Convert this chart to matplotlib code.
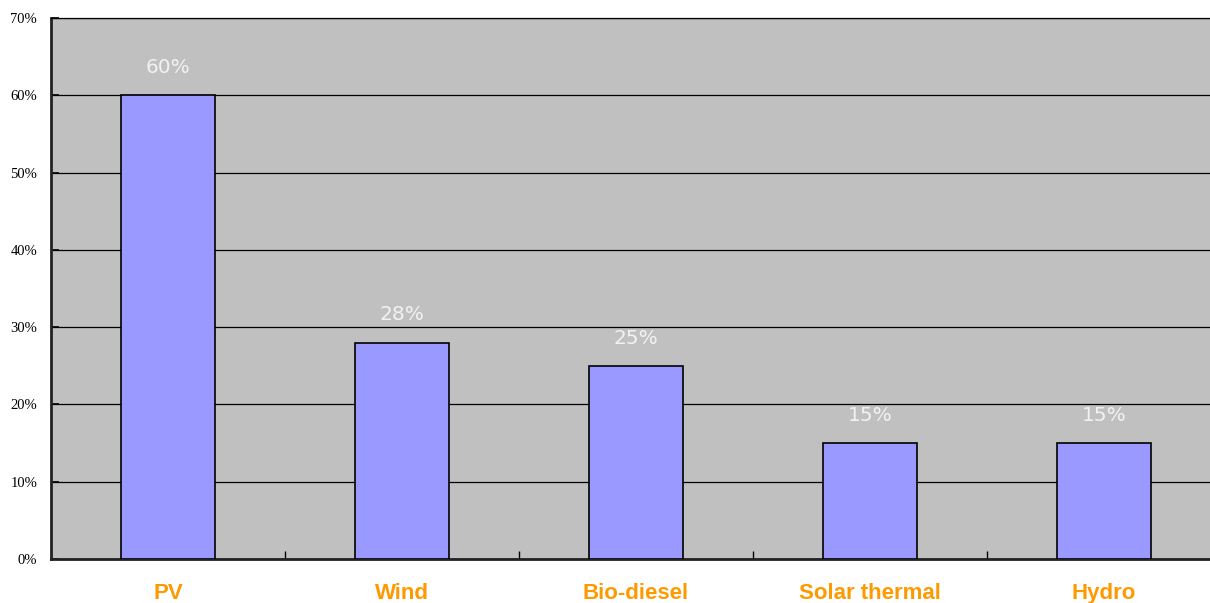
import matplotlib.pyplot as plt
import numpy as np

plt.switch_backend('agg')

categories = ['PV', 'Wind', 'Bio-diesel', 'Solar thermal', 'Hydro']
shares = [60, 28, 25, 15, 15]
value_labels = ['60%', '28%', '25%', '15%', '15%']
y_ticks = [0, 10, 20, 30, 40, 50, 60, 70]

fig = plt.figure(figsize=(12.1, 6.03), dpi=100)
# axes runs a bit past the right edge, like the original
ax = fig.add_axes([51 / 1210, 44 / 603, 1170 / 1210, 541 / 603])
ax.set_facecolor('#c0c0c0')

x = np.arange(len(categories))
ax.bar(x, shares, width=0.4, color='#9999ff', edgecolor='black', linewidth=1.2, zorder=3)

for xi, v, lab in zip(x, shares, value_labels):
    ax.annotate(lab, (xi, v), xytext=(0, 20), textcoords='offset points',
                ha='center', va='center', color='#f2f2f2', fontsize=14.5,
                family='DejaVu Sans')

ax.set_xlim(-0.5, len(categories) - 0.5)
ax.set_ylim(0, 70)

ax.set_yticks(y_ticks)
ax.set_yticklabels([f'{t}%' for t in y_ticks], family='Liberation Serif', fontsize=10.5)
ax.tick_params(axis='y', direction='in', length=6, width=1.2, pad=10)
ax.yaxis.grid(True, color='black', linewidth=0.9, zorder=1)
ax.set_axisbelow(True)

ax.set_xticks(x)
ax.set_xticklabels(categories, color='#ff9900', fontsize=16, fontweight='bold',
                   family='Liberation Sans')
ax.tick_params(axis='x', which='major', length=0, pad=17)
ax.set_xticks(x[:-1] + 0.5, minor=True)
ax.tick_params(axis='x', which='minor', direction='in', length=6, width=1)

for s in ['left', 'bottom']:
    ax.spines[s].set_linewidth(2)
    ax.spines[s].set_color('#222222')
ax.spines['top'].set_linewidth(0.9)
ax.spines['right'].set_visible(False)

fig.savefig('out.png', dpi=100)
